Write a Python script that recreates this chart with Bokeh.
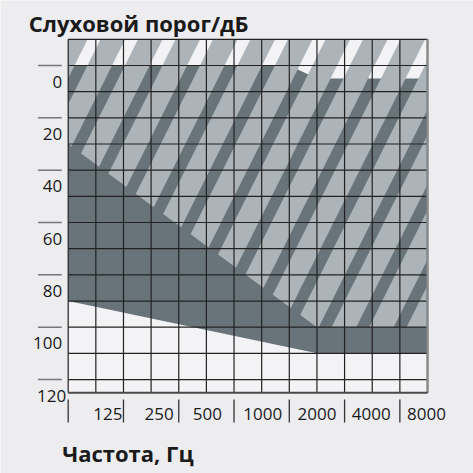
import numpy as np
from bokeh.plotting import figure
from bokeh.models import Range1d
from bokeh.core.properties import value
from bokeh.embed import file_html
from bokeh.resources import INLINE

# ---------------- data ----------------
freq_labels = [125, 250, 500, 1000, 2000, 4000, 8000]
db_labels = [0, 20, 40, 60, 80, 100, 120]
grid_freqs = [88.4, 125, 176.8, 250, 353.6, 500, 707.1, 1000, 1414, 2000, 2828, 4000, 5657, 8000]
grid_dbs = [-10, 0, 10, 20, 30, 40, 50, 60, 70, 80, 90, 100, 110, 120]
sep_freqs = [88.4, 176.8, 353.6, 707.1, 1414, 2828, 5657]
f_min, f_max = 88.4, 8000
db_min, db_max = -10, 125

# solid dark area
dark_freqs = [88.4, 1414, 2000, 8000, 8000, 2000, 88.4]
dark_dbs = [0, 0, 5, 5, 110, 110, 90]

# hatched area
hatch_freqs = [88.4, 8000, 8000, 2000, 88.4]
hatch_dbs = [-10, -10, 100, 100, 30]

title_text = "Слуховой порог/дБ"
xlabel_text = "Частота, Гц"

# ---------------- layout ----------------
W = H = 473
PX_OCT = 55.28     # pixels per octave
PX_DB = 2.617      # pixels per dB
GX = 67.7          # canvas x of f_min
GY = 65.0          # canvas y of 0 dB
x_label_dx = [12, 8, 1, 1, 0, -1, -1]      # pixel nudges of the frequency labels
y_label_dx = [0, 0, 0, 0, 0, 0, 4]         # pixel nudges of the dB labels


def fx(px):
    return f_min * 2 ** ((px - GX) / PX_OCT)


def dy(py):
    return (py - GY) / PX_DB


BG = "#ededf0"
PLOT_BG = "#f3f3f5"
DARK = "#68747a"
LIGHT = "#adb4b9"
GRID = "#222222"
FONT = "Open Sans"

p = figure(width=W, height=H, output_backend="svg", toolbar_location=None,
           x_axis_type="log",
           x_range=Range1d(fx(0), fx(W)), y_range=Range1d(dy(H), dy(0)),
           x_axis_location=None, y_axis_location=None,
           min_border=0, outline_line_color=None,
           background_fill_color=BG, border_fill_color=BG)
p.grid.visible = False

# plot area
p.quad(left=[f_min], right=[f_max], top=[db_min], bottom=[db_max],
       fill_color=PLOT_BG, line_color=None)

# dark region
p.patch(dark_freqs, dark_dbs, fill_color=DARK, line_color=None)

# hatched region
p.patch(hatch_freqs, hatch_dbs, fill_color=None, line_color=None,
        hatch_pattern="/", hatch_color=LIGHT, hatch_scale=75, hatch_weight=22)

# grid
p.segment(x0=grid_freqs, x1=grid_freqs, y0=[db_min] * len(grid_freqs), y1=[db_max] * len(grid_freqs),
          line_color=GRID, line_width=1.2)
p.segment(x0=[f_min] * len(grid_dbs), x1=[f_max] * len(grid_dbs), y0=grid_dbs, y1=grid_dbs,
          line_color=GRID, line_width=1.2)
# borders
p.segment(x0=[f_max], x1=[f_max], y0=[db_min], y1=[db_max], line_color="#8a8a8a", line_width=2.4)
p.segment(x0=[f_min], x1=[f_max], y0=[db_max], y1=[db_max], line_color="#4a4a4a", line_width=2)

# y tick lines and labels
p.segment(x0=[fx(37.5)] * len(db_labels), x1=[fx(61.2)] * len(db_labels), y0=db_labels, y1=db_labels,
          line_color="#777777", line_width=1.5)
p.text(x=[fx(61.7)] * len(db_labels), y=[d + 16 / PX_DB for d in db_labels],
       x_offset=y_label_dx,
       text=[str(d) for d in db_labels], text_align="right", text_baseline="middle",
       text_font=value(FONT), text_font_size="17px", text_color="#1a1a1a")

# x separators and labels
p.segment(x0=sep_freqs, x1=sep_freqs, y0=[dy(399)] * len(sep_freqs), y1=[dy(422)] * len(sep_freqs),
          line_color="#333333", line_width=1.3)
p.text(x=freq_labels, y=[dy(413)] * len(freq_labels), x_offset=x_label_dx,
       text=[str(f) for f in freq_labels],
       text_align="center", text_baseline="middle",
       text_font=value(FONT), text_font_size="17px", text_color="#1a1a1a")

# titles
p.text(x=[fx(28.3)], y=[dy(22)], text=[title_text], text_align="left", text_baseline="middle",
       text_font=value(FONT), text_font_style="bold", text_font_size="22px", text_color="#1a1a1a")
p.text(x=[fx(61.7)], y=[dy(452)], text=[xlabel_text], text_align="left", text_baseline="middle",
       text_font=value(FONT), text_font_style="bold", text_font_size="22px", text_color="#1a1a1a")

open("out.html", "w").write(file_html(p, INLINE))
